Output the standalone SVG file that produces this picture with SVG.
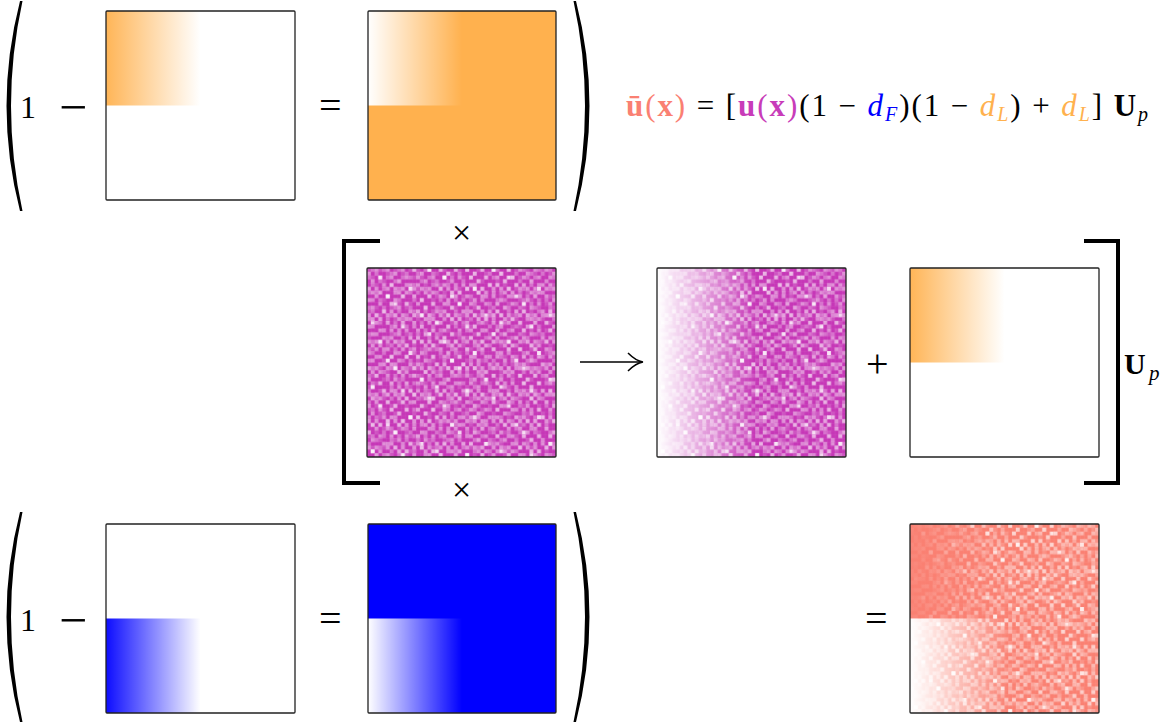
<svg xmlns="http://www.w3.org/2000/svg" xmlns:xlink="http://www.w3.org/1999/xlink" width="1172" height="725" viewBox="0 0 1172 725">
<style>
.box{fill:none;stroke:#222;stroke-width:1.3}
.num{font-family:"Liberation Serif",serif;font-size:32px;fill:#000}
.op{font-family:"Liberation Serif",serif;font-size:40px;fill:#000}
.mn{font-family:"Liberation Serif",serif;font-size:50px;fill:#000}
.tm{font-family:"Liberation Serif",serif;font-size:34px;fill:#000}
.fm{font-family:"Liberation Serif",serif;font-size:31px;fill:#000}
.b{font-weight:bold}
.i{font-style:italic}
.sub{font-size:20px}
.par{fill:#000}
.brk{fill:none;stroke:#000;stroke-width:4;stroke-linecap:butt}
.arr{fill:none;stroke:#000;stroke-width:1.5}
</style>
<defs>
<linearGradient id="gOrFade"><stop offset="0" stop-color="#FFB14E" stop-opacity="0.95"/><stop offset="1" stop-color="#FFB14E" stop-opacity="0"/></linearGradient>
<linearGradient id="gBlFade"><stop offset="0" stop-color="#0000FF" stop-opacity="0.95"/><stop offset="1" stop-color="#0000FF" stop-opacity="0"/></linearGradient>
<linearGradient id="gWhFade"><stop offset="0" stop-color="#fff" stop-opacity="1"/><stop offset="1" stop-color="#fff" stop-opacity="0"/></linearGradient>
<linearGradient id="gSaFade"><stop offset="0" stop-color="#FA8072" stop-opacity="0.9"/><stop offset="1" stop-color="#FA8072" stop-opacity="0"/></linearGradient>
<pattern id="p7" patternUnits="userSpaceOnUse" width="26.46" height="26.46">
<path transform="scale(3.78)" fill="#fff" fill-opacity="0.45" d="M2 0h1v1h-1zM5 0h1v1h-1zM0 1h1v1h-1zM3 2h1v1h-1zM6 2h1v1h-1zM1 3h1v1h-1zM4 4h1v1h-1zM6 4h1v1h-1zM0 5h1v1h-1zM2 5h1v1h-1zM5 5h1v1h-1zM1 6h1v1h-1zM3 6h1v1h-1z"/>
</pattern>
<pattern id="p11" patternUnits="userSpaceOnUse" width="41.58" height="41.58">
<path transform="scale(3.78)" fill="#fff" fill-opacity="0.3" d="M1 0h1v1h-1zM4 0h1v1h-1zM8 0h1v1h-1zM2 1h1v1h-1zM6 1h1v1h-1zM10 1h1v1h-1zM0 2h1v1h-1zM5 2h1v1h-1zM9 2h1v1h-1zM3 3h1v1h-1zM7 3h1v1h-1zM1 4h1v1h-1zM6 4h1v1h-1zM10 4h1v1h-1zM4 5h1v1h-1zM8 5h1v1h-1zM0 6h1v1h-1zM2 6h1v1h-1zM7 6h1v1h-1zM5 7h1v1h-1zM9 7h1v1h-1zM1 8h1v1h-1zM3 8h1v1h-1zM8 8h1v1h-1zM6 9h1v1h-1zM10 9h1v1h-1zM0 10h1v1h-1zM4 10h1v1h-1zM7 10h1v1h-1z"/>
</pattern>
<pattern id="p13" patternUnits="userSpaceOnUse" width="49.14" height="49.14">
<path transform="scale(3.78)" fill="#fff" fill-opacity="0.15" d="M0 0h1v1h-1zM3 0h1v1h-1zM7 0h1v1h-1zM11 0h1v1h-1zM5 1h1v1h-1zM9 1h1v1h-1zM1 2h1v1h-1zM12 2h1v1h-1zM4 3h1v1h-1zM8 3h1v1h-1zM2 4h1v1h-1zM6 4h1v1h-1zM10 4h1v1h-1zM0 5h1v1h-1zM11 5h1v1h-1zM3 6h1v1h-1zM7 6h1v1h-1zM5 7h1v1h-1zM9 7h1v1h-1zM12 7h1v1h-1zM1 8h1v1h-1zM4 8h1v1h-1zM8 9h1v1h-1zM11 9h1v1h-1zM2 10h1v1h-1zM6 10h1v1h-1zM10 10h1v1h-1zM0 11h1v1h-1zM4 11h1v1h-1zM7 12h1v1h-1zM12 12h1v1h-1zM3 12h1v1h-1z"/>
</pattern>
<pattern id="p17" patternUnits="userSpaceOnUse" width="64.26" height="64.26">
<path transform="scale(3.78)" fill="#fff" fill-opacity="0.8" d="M3 2h1v1h-1zM11 5h1v1h-1zM7 9h1v1h-1zM14 12h1v1h-1zM1 14h1v1h-1zM9 15h1v1h-1zM16 0h1v1h-1zM5 7h1v1h-1z"/>
</pattern>
<pattern id="grid" patternUnits="userSpaceOnUse" width="3.78" height="3.78">
<path d="M0 0H3.78M0 0V3.78" stroke="#fff" stroke-opacity="0.15" stroke-width="0.5"/>
</pattern>
<g id="noiseW">
<rect width="189" height="189" fill="url(#p7)"/>
<rect width="189" height="189" fill="url(#p11)"/>
<rect width="189" height="189" fill="url(#p13)"/>
<rect width="189" height="189" fill="url(#p17)"/>
<rect width="189" height="189" fill="url(#grid)"/>
</g>
</defs>
<rect width="1172" height="725" fill="#fff"/>

<g id="top-row-symbols">
<path class="par" d="M20 1 Q-7 106 20 211 L22.5 211 Q-0.5 106 22.5 1 Z"/>
<text class="num" x="20" y="118">1</text>
<text class="mn" x="59" y="124">−</text>
<text class="op" x="319" y="119">=</text>
<path class="par" d="M576 1 Q603 106 576 211 L573.5 211 Q596.5 106 573.5 1 Z"/>
</g>

<g id="node-dL">
<rect x="106" y="11" width="189" height="189" fill="#fff"/>
<rect x="106" y="11" width="94.5" height="94.5" fill="url(#gOrFade)"/>
<rect class="box" x="106" y="11" width="189" height="189" rx="1"/>
</g>

<g id="node-1-dL">
<rect x="368" y="11" width="188" height="189" fill="#FFB14E"/>
<rect x="368" y="11" width="94" height="94.5" fill="url(#gWhFade)"/>
<rect class="box" x="368" y="11" width="188" height="189" rx="1"/>
</g>

<g id="formula">
<text class="fm" x="626" y="116" textLength="522" lengthAdjust="spacing"><tspan fill="#FA8072" class="b">ū</tspan><tspan fill="#FA8072">(</tspan><tspan fill="#FA8072" class="b">x</tspan><tspan fill="#FA8072">)</tspan> = [<tspan fill="#C83CB9" class="b">u</tspan><tspan fill="#C83CB9">(</tspan><tspan fill="#C83CB9" class="b">x</tspan><tspan fill="#C83CB9">)</tspan>(1 − <tspan fill="#0000FF" class="i">d</tspan><tspan fill="#0000FF" class="i sub" dy="5">F</tspan><tspan dy="-5">)(1 − </tspan><tspan fill="#FFB14E" class="i">d</tspan><tspan fill="#FFB14E" class="i sub" dy="5">L</tspan><tspan dy="-5">) + </tspan><tspan fill="#FFB14E" class="i">d</tspan><tspan fill="#FFB14E" class="i sub" dy="5">L</tspan><tspan dy="-5">] </tspan><tspan class="b">U</tspan><tspan class="i sub" dy="5">p</tspan></text>
</g>

<g id="middle-row-symbols">
<text class="tm" x="452" y="244">×</text>
<text class="tm" x="452" y="501">×</text>
<text class="op" x="866" y="377">+</text>
<text class="num b" x="1124" y="374" style="font-size:30px">U</text>
<text class="num i" x="1149" y="380" style="font-size:21px">p</text>
<path class="brk" d="M380 241 H344 V483 H380"/>
<path class="brk" d="M1084 241 H1118 V483 H1084"/>
</g>

<g id="node-u">
<rect x="367" y="268" width="189" height="189" fill="#C637B7"/>
<use xlink:href="#noiseW" href="#noiseW" x="367" y="268"/>
<rect class="box" x="367" y="268" width="189" height="189" rx="1"/>
</g>

<g id="node-u-faded">
<rect x="657" y="268" width="189" height="189" fill="#C637B7"/>
<use xlink:href="#noiseW" href="#noiseW" x="657" y="268"/>
<rect x="657" y="268" width="98" height="189" fill="url(#gWhFade)"/>
<rect class="box" x="657" y="268" width="189" height="189" rx="1"/>
</g>

<g id="node-dL-2">
<rect x="910" y="268" width="189" height="189" fill="#fff"/>
<rect x="910" y="268" width="94.5" height="94.5" fill="url(#gOrFade)"/>
<rect class="box" x="910" y="268" width="189" height="189" rx="1"/>
</g>

<g id="connectors">
<path class="arr" d="M580 362 H642"/>
<path class="arr" d="M628 353 Q636 361 643 362 Q636 363 628 371"/>
</g>

<g id="bottom-row-symbols">
<path class="par" d="M20 512 Q-7 617 20 722 L22.5 722 Q-0.5 617 22.5 512 Z"/>
<text class="num" x="20" y="631">1</text>
<text class="mn" x="59" y="637">−</text>
<text class="op" x="319" y="632">=</text>
<path class="par" d="M576 512 Q603 617 576 722 L573.5 722 Q596.5 617 573.5 512 Z"/>
<text class="op" x="865" y="632">=</text>
</g>

<g id="node-dF">
<rect x="106" y="524" width="189" height="189" fill="#fff"/>
<rect x="106" y="618.5" width="94.5" height="94.5" fill="url(#gBlFade)"/>
<rect class="box" x="106" y="524" width="189" height="189" rx="1"/>
</g>

<g id="node-1-dF">
<rect x="368" y="524" width="188" height="189" fill="#0000FF"/>
<rect x="368" y="618.5" width="94" height="94.5" fill="url(#gWhFade)"/>
<rect class="box" x="368" y="524" width="188" height="189" rx="1"/>
</g>

<g id="node-result">
<rect x="910" y="524" width="189" height="189" fill="#FA8072"/>
<use xlink:href="#noiseW" href="#noiseW" x="910" y="524"/>
<rect x="910" y="524" width="94.5" height="94.5" fill="url(#gSaFade)"/>
<rect x="910" y="618.5" width="98" height="94.5" fill="url(#gWhFade)"/>
<rect class="box" x="910" y="524" width="189" height="189" rx="1"/>
</g>
</svg>
